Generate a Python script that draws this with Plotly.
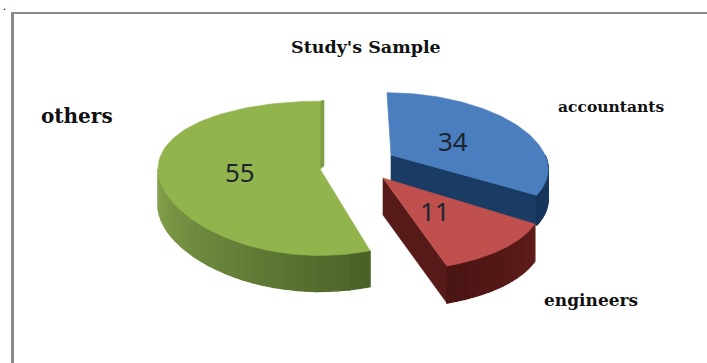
import math
import plotly.graph_objects as go

# Survey composition
categories = ["accountants", "engineers", "others"]
values = [34, 11, 55]

# Per-slice drawing geometry on a 707x363 canvas: apex, radii, perspective
GEOMETRY = {
    "accountants": dict(cx=391, cy=155, rx=154, ry=70, kx=0.17, ky=0.124, depth=30, lean=-0.065),
    "engineers": dict(cx=383, cy=178, rx=154, ry=78.5, kx=0.268, ky=0.16, depth=37, lean=0.0),
    "others": dict(cx=320, cy=169, rx=162, ry=76, kx=0.0, ky=0.121, depth=36, lean=0.0),
}
PALETTE = {
    "accountants": dict(top="#4a7ebf", side=("#16345a", "#1c4068"), cut="#1a3c64"),
    "engineers": dict(top="#c0504d", side=("#4a1513", "#5f1d1b"), cut="#561a18"),
    "others": dict(top="#92b44c", side=("#84a24c", "#4a6228"), cut="#7f9e45"),
}
LABEL_POS = {"accountants": (453, 141), "engineers": (435, 211), "others": (240, 172)}


def rim_point(g, deg):
    a = math.radians(deg)
    u, v = math.sin(a), math.cos(a)
    y = g["cy"] - g["ry"] * v / (1 + g["ky"] * v)
    x = g["cx"] + g["rx"] * u / (1 + g["kx"] * v) + g["lean"] * (g["cy"] - y)
    return x, y


def lower(pt, g):
    return (pt[0], pt[1] + g["depth"])


def mix(c1, c2, t):
    a = [int(c1[i:i + 2], 16) for i in (1, 3, 5)]
    b = [int(c2[i:i + 2], 16) for i in (1, 3, 5)]
    return "#%02x%02x%02x" % tuple(round(p + (q - p) * t) for p, q in zip(a, b))


def polygon(points, color, edge=0.6):
    xs, ys = zip(*points)
    return go.Scatter(x=list(xs) + [xs[0]], y=list(ys) + [ys[0]], mode="lines", fill="toself",
                      fillcolor=color, line=dict(color=color, width=edge),
                      hoverinfo="skip", showlegend=False)


# Convert shares to clockwise angular spans starting at twelve o'clock
spans = {}
start = 0.0
for name, val in zip(categories, values):
    spans[name] = (start, start + val * 3.6)
    start += val * 3.6

fig = go.Figure()
for name in ["others", "accountants", "engineers"]:
    g, col = GEOMETRY[name], PALETTE[name]
    a0, a1 = spans[name]
    apex = (g["cx"], g["cy"])

    if name == "others":
        # thin cut face seen along the back edge
        r = rim_point(g, a1)
        fig.add_trace(polygon([apex, r, (r[0] + 4, r[1] - 1), (apex[0] + 4, apex[1] - 3)], col["cut"]))
    else:
        # cut face on the trailing edge of the slice
        r = rim_point(g, a1)
        fig.add_trace(polygon([apex, r, lower(r, g), lower(apex, g)], col["cut"]))

    # outer wall, shaded in overlapping strips around the rim
    if name == "accountants":
        lo, hi = 90, a1
    elif name == "others":
        lo, hi = a0, 270
    else:
        lo, hi = a0, a1
    steps = 28
    for i in range(steps):
        t0 = lo + (hi - lo) * i / steps
        t1 = lo + (hi - lo) * (i + 1) / steps
        p0, p1 = rim_point(g, t0), rim_point(g, t1)
        shade = mix(col["side"][1], col["side"][0], i / (steps - 1))
        fig.add_trace(polygon([p0, p1, lower(p1, g), lower(p0, g)], shade, edge=1.4))

    # top surface
    n = 90
    pts = [apex] + [rim_point(g, a0 + (a1 - a0) * i / n) for i in range(n + 1)]
    fig.add_trace(polygon(pts, col["top"]))

annotations = [dict(x=LABEL_POS[n][0], y=LABEL_POS[n][1], text=str(v), showarrow=False,
                    font=dict(family="Noto Sans", size=26, color="#1c2530"))
               for n, v in zip(categories, values)]
serif = "DejaVu Serif"
annotations += [
    dict(x=366, y=47, text="<b>Study's Sample</b>", showarrow=False, font=dict(family=serif, size=17.5, color="#111")),
    dict(x=77, y=116, text="<b>others</b>", showarrow=False, font=dict(family=serif, size=20, color="#111")),
    dict(x=611, y=106, text="<b>accountants</b>", showarrow=False, font=dict(family=serif, size=15.5, color="#111")),
    dict(x=591, y=300, text="<b>engineers</b>", showarrow=False, font=dict(family=serif, size=17, color="#111")),
    dict(x=4, y=0, yanchor="top", text="<b>.</b>", showarrow=False, font=dict(family=serif, size=8, color="#111")),
]

fig.update_layout(
    width=707, height=363, margin=dict(l=0, r=0, t=0, b=0),
    paper_bgcolor="white", plot_bgcolor="white", showlegend=False,
    xaxis=dict(range=[0, 707], visible=False, fixedrange=True),
    yaxis=dict(range=[363, 0], visible=False, fixedrange=True),
    annotations=annotations,
    shapes=[dict(type="line", x0=12, y0=13, x1=707, y1=13, line=dict(color="#8a8a8a", width=2)),
            dict(type="line", x0=12.5, y0=12, x1=12.5, y1=363, line=dict(color="#8a8a8a", width=3))],
)
fig.write_html("out.html")
